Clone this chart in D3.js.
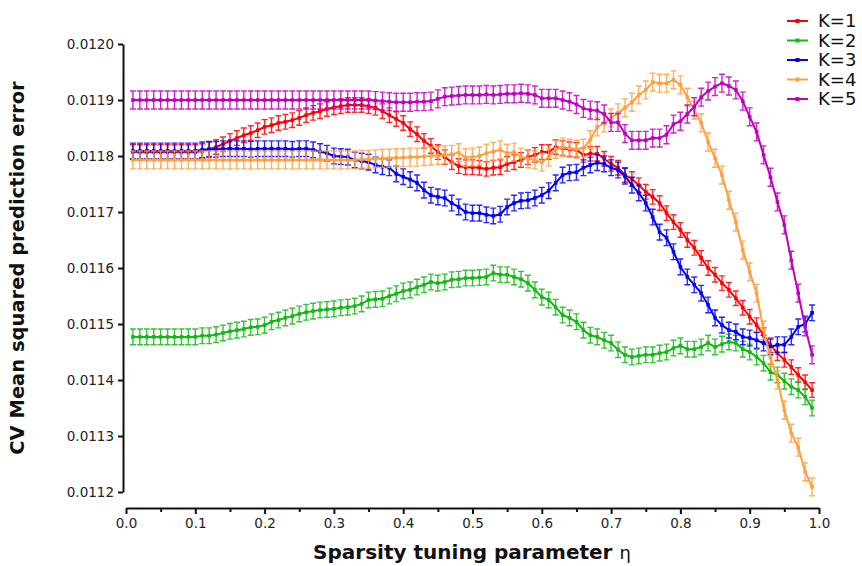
<!DOCTYPE html>
<html>
<head>
<meta charset="utf-8">
<script src="https://cdn.jsdelivr.net/npm/d3@7"></script>
<style>
  body { margin: 0; background: #fff; }
  svg { display: block; font-family: "DejaVu Sans", Verdana, sans-serif; }
</style>
</head>
<body>
<svg id="chart" width="862" height="566"></svg>
<script>
// eta grid (x values)
const eta = [
  0.01, 0.02, 0.03, 0.04, 0.05, 0.06, 0.07, 0.08, 0.09, 0.10,
  0.11, 0.12, 0.13, 0.14, 0.15, 0.16, 0.17, 0.18, 0.19, 0.20,
  0.21, 0.22, 0.23, 0.24, 0.25, 0.26, 0.27, 0.28, 0.29, 0.30,
  0.31, 0.32, 0.33, 0.34, 0.35, 0.36, 0.37, 0.38, 0.39, 0.40,
  0.41, 0.42, 0.43, 0.44, 0.45, 0.46, 0.47, 0.48, 0.49, 0.50,
  0.51, 0.52, 0.53, 0.54, 0.55, 0.56, 0.57, 0.58, 0.59, 0.60,
  0.61, 0.62, 0.63, 0.64, 0.65, 0.66, 0.67, 0.68, 0.69, 0.70,
  0.71, 0.72, 0.73, 0.74, 0.75, 0.76, 0.77, 0.78, 0.79, 0.80,
  0.81, 0.82, 0.83, 0.84, 0.85, 0.86, 0.87, 0.88, 0.89, 0.90,
  0.91, 0.92, 0.93, 0.94, 0.95, 0.96, 0.97, 0.98, 0.99
];

const k1 = [
  0.011807, 0.011807, 0.011807, 0.011807, 0.011807, 0.011807, 0.011807, 0.011807, 0.011807, 0.011807,
  0.011809, 0.011812, 0.011816, 0.011821, 0.011827, 0.011832, 0.011837, 0.011841, 0.011846, 0.011852,
  0.011855, 0.011859, 0.011861, 0.011864, 0.011868, 0.011873, 0.011877, 0.011880, 0.011884, 0.011887,
  0.011889, 0.011891, 0.011891, 0.011891, 0.011889, 0.011886, 0.011880, 0.011873, 0.011866, 0.011859,
  0.011848, 0.011839, 0.011827, 0.011818, 0.011807, 0.011798, 0.011789, 0.011782, 0.011780, 0.011780,
  0.011779, 0.011777, 0.011779, 0.011780, 0.011786, 0.011789, 0.011793, 0.011798, 0.011802, 0.011807,
  0.011807, 0.011816, 0.011814, 0.011812, 0.011811, 0.011802, 0.011804, 0.011804, 0.011795, 0.011786,
  0.011779, 0.011766, 0.011759, 0.011748, 0.011736, 0.011727, 0.011716, 0.011698, 0.011682, 0.011668,
  0.011650, 0.011636, 0.011618, 0.011600, 0.011588, 0.011573, 0.011561, 0.011546, 0.011529, 0.011513,
  0.011498, 0.011480, 0.011462, 0.011448, 0.011436, 0.011423, 0.011409, 0.011396, 0.011382
];

const k2 = [
  0.011477, 0.011477, 0.011477, 0.011477, 0.011477, 0.011477, 0.011477, 0.011477, 0.011477, 0.011477,
  0.011479, 0.011479, 0.011481, 0.011484, 0.011487, 0.011489, 0.011491, 0.011494, 0.011495, 0.011498,
  0.011504, 0.011507, 0.011511, 0.011514, 0.011518, 0.011521, 0.011523, 0.011525, 0.011526, 0.011527,
  0.011529, 0.011530, 0.011532, 0.011536, 0.011543, 0.011544, 0.011545, 0.011550, 0.011554, 0.011559,
  0.011561, 0.011566, 0.011570, 0.011575, 0.011573, 0.011575, 0.011579, 0.011580, 0.011582, 0.011582,
  0.011583, 0.011584, 0.011591, 0.011588, 0.011588, 0.011584, 0.011580, 0.011573, 0.011561, 0.011548,
  0.011543, 0.011530, 0.011516, 0.011511, 0.011504, 0.011489, 0.011480, 0.011477, 0.011471, 0.011466,
  0.011454, 0.011445, 0.011441, 0.011443, 0.011445, 0.011445, 0.011448, 0.011450, 0.011457, 0.011461,
  0.011455, 0.011455, 0.011459, 0.011466, 0.011459, 0.011464, 0.011468, 0.011466, 0.011455, 0.011450,
  0.011441, 0.011430, 0.011414, 0.011409, 0.011398, 0.011388, 0.011382, 0.011370, 0.011350
];

const k3 = [
  0.011809, 0.011809, 0.011809, 0.011809, 0.011809, 0.011809, 0.011809, 0.011809, 0.011809, 0.011809,
  0.011811, 0.011812, 0.011812, 0.011813, 0.011813, 0.011813, 0.011813, 0.011812, 0.011813, 0.011813,
  0.011813, 0.011813, 0.011813, 0.011812, 0.011813, 0.011813, 0.011811, 0.011808, 0.011805, 0.011800,
  0.011799, 0.011798, 0.011793, 0.011791, 0.011789, 0.011784, 0.011781, 0.011779, 0.011768, 0.011763,
  0.011758, 0.011752, 0.011739, 0.011730, 0.011727, 0.011725, 0.011716, 0.011709, 0.011700, 0.011698,
  0.011698, 0.011695, 0.011693, 0.011696, 0.011709, 0.011716, 0.011720, 0.011721, 0.011725, 0.011730,
  0.011738, 0.011752, 0.011766, 0.011770, 0.011771, 0.011779, 0.011784, 0.011788, 0.011786, 0.011779,
  0.011775, 0.011764, 0.011748, 0.011734, 0.011716, 0.011691, 0.011664, 0.011654, 0.011629, 0.011602,
  0.011584, 0.011570, 0.011555, 0.011534, 0.011511, 0.011498, 0.011489, 0.011486, 0.011477, 0.011475,
  0.011471, 0.011466, 0.011459, 0.011463, 0.011463, 0.011477, 0.011495, 0.011500, 0.011520
];

const k4 = [
  0.011793, 0.011793, 0.011793, 0.011793, 0.011793, 0.011793, 0.011793, 0.011793, 0.011793, 0.011793,
  0.011793, 0.011793, 0.011793, 0.011793, 0.011793, 0.011793, 0.011793, 0.011793, 0.011793, 0.011793,
  0.011793, 0.011793, 0.011793, 0.011793, 0.011793, 0.011793, 0.011793, 0.011793, 0.011793, 0.011793,
  0.011793, 0.011793, 0.011793, 0.011794, 0.011794, 0.011795, 0.011796, 0.011796, 0.011797, 0.011797,
  0.011798, 0.011798, 0.011799, 0.011800, 0.011801, 0.011802, 0.011803, 0.011806, 0.011797, 0.011798,
  0.011800, 0.011805, 0.011808, 0.011811, 0.011805, 0.011807, 0.011798, 0.011795, 0.011793, 0.011789,
  0.011798, 0.011812, 0.011816, 0.011814, 0.011812, 0.011814, 0.011829, 0.011852, 0.011859, 0.011868,
  0.011877, 0.011886, 0.011896, 0.011909, 0.011918, 0.011932, 0.011930, 0.011930, 0.011936, 0.011927,
  0.011905, 0.011882, 0.011859, 0.011825, 0.011796, 0.011766, 0.011721, 0.011682, 0.011632, 0.011593,
  0.011555, 0.011489, 0.011440, 0.011400, 0.011346, 0.011305, 0.011280, 0.011236, 0.011209
];

const k5 = [
  0.011900, 0.011900, 0.011900, 0.011900, 0.011900, 0.011900, 0.011900, 0.011900, 0.011900, 0.011900,
  0.011900, 0.011900, 0.011900, 0.011900, 0.011900, 0.011900, 0.011900, 0.011900, 0.011900, 0.011900,
  0.011900, 0.011900, 0.011900, 0.011900, 0.011900, 0.011900, 0.011900, 0.011900, 0.011900, 0.011900,
  0.011900, 0.011900, 0.011900, 0.011900, 0.011900, 0.011899, 0.011898, 0.011897, 0.011896, 0.011896,
  0.011896, 0.011897, 0.011897, 0.011898, 0.011902, 0.011906, 0.011907, 0.011908, 0.011909, 0.011909,
  0.011909, 0.011910, 0.011909, 0.011910, 0.011911, 0.011911, 0.011912, 0.011911, 0.011909, 0.011903,
  0.011903, 0.011903, 0.011900, 0.011897, 0.011892, 0.011885, 0.011882, 0.011881, 0.011875, 0.011860,
  0.011860, 0.011840, 0.011828, 0.011828, 0.011828, 0.011832, 0.011832, 0.011838, 0.011857, 0.011862,
  0.011875, 0.011888, 0.011905, 0.011916, 0.011924, 0.011930, 0.011925, 0.011918, 0.011898, 0.011870,
  0.011843, 0.011802, 0.011762, 0.011718, 0.011677, 0.011614, 0.011555, 0.011495, 0.011445
];

// half height of the error bars, one per series
const seriesNames = ["K=1", "K=2", "K=3", "K=4", "K=5"];
const seriesValues = [k1, k2, k3, k4, k5];
const seriesErr = [0.000013, 0.000014, 0.000014, 0.000016, 0.000016];
const seriesColors = ["#ff0000", "#14b814", "#0000ff", "#ffa040", "#bf00bf"];

// tick labels
const xTicks = [0.0, 0.1, 0.2, 0.3, 0.4, 0.5, 0.6, 0.7, 0.8, 0.9, 1.0];
const xMinorTicks = [0.05, 0.15, 0.25, 0.35, 0.45, 0.55, 0.65, 0.75, 0.85, 0.95];
const yTicks = [0.0112, 0.0113, 0.0114, 0.0115, 0.0116, 0.0117, 0.0118, 0.0119, 0.0120];

const svg = d3.select("#chart");

//scales//
const xScale = d3.scaleLinear().domain([0, 1]).range([126, 819]);
const yScale = d3.scaleLinear().domain([0.0112, 0.0120]).range([492, 44]);

//axes//
const yAxis = d3.axisLeft(yScale)
  .tickValues(yTicks)
  .tickFormat(d3.format(".4f"))
  .tickSize(5)
  .tickPadding(4)
  .tickSizeOuter(0);

svg.append("g")
  .attr("transform", "translate(123,0)")
  .call(yAxis);

const xAxis = d3.axisBottom(xScale)
  .tickValues(xTicks)
  .tickFormat(d3.format(".1f"))
  .tickSize(6)
  .tickPadding(4)
  .tickSizeOuter(0);

svg.append("g")
  .attr("transform", "translate(0,508)")
  .call(xAxis);

svg.append("g")
  .attr("transform", "translate(0,508)")
  .call(d3.axisBottom(xScale).tickValues(xMinorTicks).tickSize(4).tickFormat("").tickSizeOuter(0))
  .call(g => g.select(".domain").remove());

svg.selectAll(".domain, .tick line").attr("stroke", "#111").attr("stroke-width", 2);
svg.selectAll(".tick text")
  .attr("font-family", "DejaVu Sans, Verdana, sans-serif")
  .attr("font-size", 13.5)
  .attr("fill", "#222");

//axis titles//
svg.append("text")
  .attr("transform", "translate(24,268) rotate(-90)")
  .attr("text-anchor", "middle")
  .attr("font-size", 19.5)
  .attr("font-weight", "bold")
  .attr("fill", "#111")
  .text("CV Mean squared prediction error");

const xt = svg.append("text")
  .attr("x", 472)
  .attr("y", 559)
  .attr("text-anchor", "middle")
  .attr("font-size", 20)
  .attr("font-weight", "bold")
  .attr("fill", "#111");
xt.append("tspan").text("Sparsity tuning parameter ");
xt.append("tspan").attr("font-weight", "normal").attr("font-size", 18).text("η");

//lines, error bars and markers//
const line = d3.line()
  .x((d, i) => xScale(eta[i]))
  .y(d => yScale(d));

seriesValues.forEach((vals, s) => {
  const color = seriesColors[s];
  const err = seriesErr[s];
  const g = svg.append("g");

  const bars = g.append("g")
    .attr("stroke", color)
    .attr("stroke-width", 1.4)
    .attr("stroke-opacity", 0.85);

  bars.selectAll("path")
    .data(vals)
    .join("path")
    .attr("fill", "none")
    .attr("d", (d, i) => {
      const x = xScale(eta[i]);
      const y0 = yScale(d + err);
      const y1 = yScale(d - err);
      return `M${x - 3},${y0}H${x + 3}M${x},${y0}V${y1}M${x - 3},${y1}H${x + 3}`;
    });

  g.append("path")
    .attr("d", line(vals))
    .attr("fill", "none")
    .attr("stroke", color)
    .attr("stroke-width", 2);

  g.selectAll("rect")
    .data(vals)
    .join("rect")
    .attr("x", (d, i) => xScale(eta[i]) - 1.8)
    .attr("y", d => yScale(d) - 1.8)
    .attr("width", 3.6)
    .attr("height", 3.6)
    .attr("fill", color);
});

//legend//
const legend = svg.append("g");
seriesNames.forEach((name, s) => {
  const y = 21 + s * 19.5;
  legend.append("line")
    .attr("x1", 787).attr("x2", 808)
    .attr("y1", y).attr("y2", y)
    .attr("stroke", seriesColors[s])
    .attr("stroke-width", 2);
  legend.append("rect")
    .attr("x", 795.5).attr("y", y - 2)
    .attr("width", 4).attr("height", 4)
    .attr("fill", seriesColors[s]);
  legend.append("text")
    .attr("x", 818)
    .attr("y", y)
    .attr("dy", "0.36em")
    .attr("font-size", 18)
    .attr("fill", "#111")
    .text(name);
});
</script>
</body>
</html>
